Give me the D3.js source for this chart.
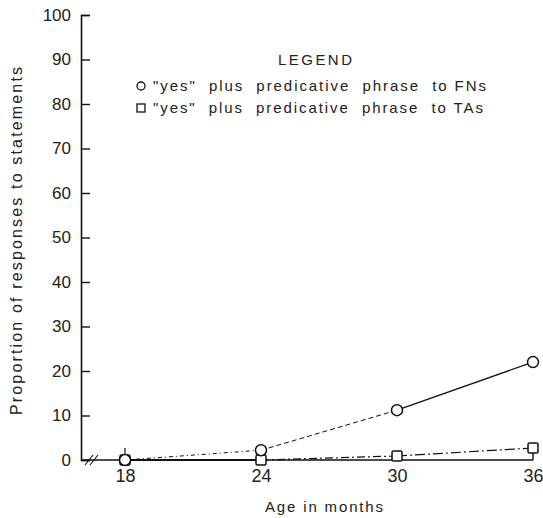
<!DOCTYPE html>
<html>
<head>
<meta charset="utf-8">
<script src="https://cdn.jsdelivr.net/npm/d3@7"></script>
<style>
  body { margin: 0; background: #fff; }
  text { font-family: "Liberation Sans", "DejaVu Sans", sans-serif; fill: #222; }
</style>
</head>
<body>
<script>
var ages = [18, 24, 30, 36];
var fnValues = [0, 2.2, 11.2, 22];
var taValues = [0, 0, 0.9, 2.7];
var yTicks = [0, 10, 20, 30, 40, 50, 60, 70, 80, 90, 100];
var legendTitle = "LEGEND";
var legendLabels = ['"yes"  plus  predicative  phrase  to FNs', '"yes"  plus  predicative  phrase  to TAs'];

var w = 543;
var h = 518;

var svg = d3.select("body").append("svg").attr("width", w).attr("height", h);

var xScale = d3.scaleLinear().domain([18, 36]).range([125, 533]);
var yScale = d3.scaleLinear().domain([0, 100]).range([460, 15]);

// y axis, ticks pointing inward
var yAxis = d3.axisLeft(yScale).tickValues(yTicks).tickSize(-9).tickPadding(10);
var gy = svg.append("g").attr("transform", "translate(81,0)").call(yAxis);
gy.select(".domain").attr("stroke", "#111").attr("stroke-width", 1.6);
gy.selectAll(".tick line").attr("stroke", "#111").attr("stroke-width", 1.4);
gy.selectAll(".tick text").style("font-size", "17px").attr("fill", "#222");

// x axis
var xAxis = d3.axisBottom(xScale).tickValues(ages).tickSize(0).tickPadding(9);
var gx = svg.append("g").attr("transform", "translate(0,460)").call(xAxis);
gx.select(".domain").remove();
gx.selectAll(".tick text").style("font-size", "18px").attr("fill", "#222");
svg.append("line").attr("x1", 81).attr("x2", xScale(36)).attr("y1", 460).attr("y2", 460)
    .attr("stroke", "#111").attr("stroke-width", 1.6);
// axis break marks
svg.selectAll("line.brk").data([0, 5]).enter().append("line")
    .attr("class", "brk")
    .attr("x1", function (d) { return 85 + d; }).attr("y1", 465)
    .attr("x2", function (d) { return 93 + d; }).attr("y2", 455)
    .attr("stroke", "#111").attr("stroke-width", 1.2);

// line segments with their styles
function segments(vals) {
    var out = [];
    for (var i = 0; i < vals.length - 1; i++) {
        out.push({ x1: ages[i], y1: vals[i], x2: ages[i + 1], y2: vals[i + 1], i: i });
    }
    return out;
}
var fnStyles = [{ dash: "4,3,1,3", width: 1 }, { dash: "5,3", width: 1 }, { dash: null, width: 1.3 }];
var taStyles = [{ dash: null, width: 2 }, { dash: "8,3,2,3", width: 1.2 }, { dash: "10,3,2,3", width: 1.2 }];

function drawSeg(data, styles) {
    svg.append("g").selectAll("line").data(data).enter().append("line")
        .attr("x1", function (d) { return xScale(d.x1); })
        .attr("y1", function (d) { return yScale(d.y1); })
        .attr("x2", function (d) { return xScale(d.x2); })
        .attr("y2", function (d) { return yScale(d.y2); })
        .attr("stroke", "#111")
        .attr("stroke-width", function (d) { return styles[d.i].width; })
        .attr("stroke-dasharray", function (d) { return styles[d.i].dash; });
}
drawSeg(segments(taValues), taStyles);
drawSeg(segments(fnValues), fnStyles);

// small stems at 18 and 36
svg.append("line").attr("x1", xScale(18)).attr("x2", xScale(18))
    .attr("y1", yScale(0) - 12).attr("y2", yScale(0)).attr("stroke", "#111").attr("stroke-width", 1.2);
svg.append("line").attr("x1", xScale(36)).attr("x2", xScale(36))
    .attr("y1", yScale(taValues[3])).attr("y2", yScale(0)).attr("stroke", "#111").attr("stroke-width", 1.4);

// markers
svg.append("g").selectAll("rect").data(taValues).enter().append("rect")
    .attr("x", function (d, i) { return xScale(ages[i]) - 5; })
    .attr("y", function (d) { return yScale(d) - 5; })
    .attr("width", 10).attr("height", 10).attr("rx", 1.5)
    .attr("fill", "#fff").attr("stroke", "#111").attr("stroke-width", 1.5);
svg.append("g").selectAll("circle").data(fnValues).enter().append("circle")
    .attr("cx", function (d, i) { return xScale(ages[i]); })
    .attr("cy", function (d) { return yScale(d); })
    .attr("r", 5.5)
    .attr("fill", "#fff").attr("stroke", "#111").attr("stroke-width", 1.5);

// axis titles
svg.append("text").text("Age in months")
    .attr("x", 265).attr("y", 512).attr("text-anchor", "start")
    .attr("textLength", 118).attr("lengthAdjust", "spacing")
    .style("font-size", "15px");
svg.append("text").text("Proportion of responses to statements")
    .attr("transform", "translate(22,241) rotate(-90)").attr("text-anchor", "middle")
    .attr("textLength", 348).attr("lengthAdjust", "spacing")
    .style("font-size", "16px");

// legend
svg.append("text").text(legendTitle)
    .attr("x", 278).attr("y", 65).attr("textLength", 74).attr("lengthAdjust", "spacing")
    .style("font-size", "15px");
var lg = svg.append("g");
lg.append("circle").attr("cx", 141).attr("cy", 86).attr("r", 4)
    .attr("fill", "none").attr("stroke", "#111").attr("stroke-width", 1.3);
lg.append("rect").attr("x", 137).attr("y", 104).attr("width", 8).attr("height", 8)
    .attr("fill", "none").attr("stroke", "#111").attr("stroke-width", 1.3);
lg.selectAll("text").data(legendLabels).enter().append("text")
    .text(function (d) { return d; })
    .attr("x", 153).attr("y", function (d, i) { return 91 + i * 22; })
    .attr("textLength", function (d, i) { return i === 0 ? 333 : 330; })
    .attr("lengthAdjust", "spacing")
    .style("font-size", "15px")
    .style("white-space", "pre").attr("xml:space", "preserve");
</script>
</body>
</html>
